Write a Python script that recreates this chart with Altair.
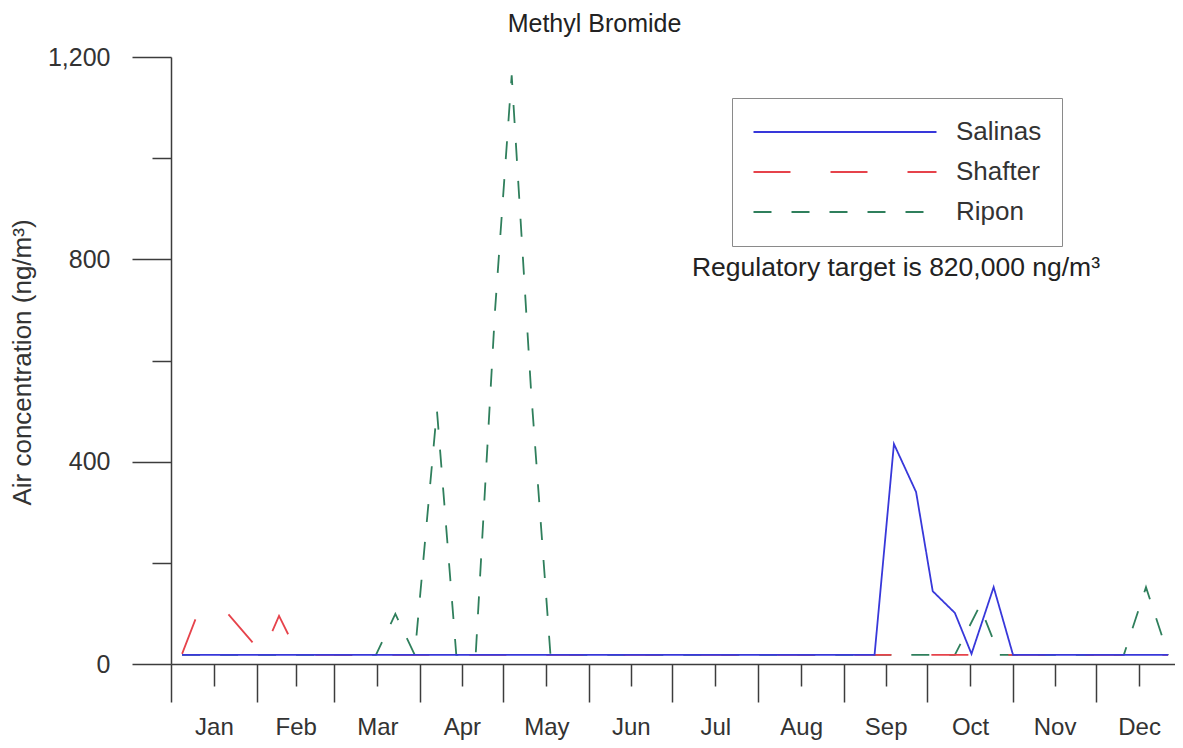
import datetime as dt
import altair as alt
import pandas as pd

# ---------------- data ----------------
sites = ["Salinas", "Shafter", "Ripon"]
site_colors = ["#3838da", "#e6434b", "#2f7f5c"]
site_dashes = [[1, 0], [37, 40], [18, 20]]

salinas_dates = ["2021-01-05", "2021-09-12", "2021-09-19", "2021-09-27", "2021-10-03",
                 "2021-10-11", "2021-10-17", "2021-10-25", "2021-11-01", "2021-12-27"]
salinas_values = [18, 18, 435, 340, 144, 101, 20, 152, 18, 18]

shafter_dates = ["2021-01-05", "2021-01-11", "2021-01-21", "2021-02-03", "2021-02-09",
                 "2021-02-16", "2021-12-27"]
shafter_values = [20, 105, 103, 20, 95, 18, 18]

ripon_dates = ["2021-01-05", "2021-03-16", "2021-03-23", "2021-03-30", "2021-04-07",
               "2021-04-14", "2021-04-21", "2021-04-28", "2021-05-04", "2021-05-11",
               "2021-05-18", "2021-10-11", "2021-10-20", "2021-10-27", "2021-12-11",
               "2021-12-19", "2021-12-27"]
ripon_values = [18, 18, 99, 18, 502, 18, 18, 700, 1164, 540, 18, 18, 115, 18, 18, 152, 18]

y_ticks = [0, 200, 400, 600, 800, 1000, 1200]
title_text = "Methyl Bromide"
y_title = "Air concentration (ng/m³)"
note_text = "Regulatory target is 820,000 ng/m³"

# ---------------- table ----------------
rows = []
for name, ds, vs in [("Salinas", salinas_dates, salinas_values),
                     ("Shafter", shafter_dates, shafter_values),
                     ("Ripon", ripon_dates, ripon_values)]:
    for d, v in zip(ds, vs):
        rows.append({"site": name, "date": d, "value": v})
df = pd.DataFrame(rows)


def ms(d):
    return int(d.replace(tzinfo=dt.timezone.utc).timestamp() * 1000)


month_starts = [dt.datetime(2021, m, 1) for m in range(1, 13)] + [dt.datetime(2022, 1, 1)]
month_mids = [month_starts[i] + (month_starts[i + 1] - month_starts[i]) / 2 for i in range(12)]
x_tick_values = [ms(d) for d in month_starts + month_mids]

FONT = "Liberation Sans"
AX = "#3c3c3c"

x_enc = alt.X(
    "date:T",
    title=None,
    scale=alt.Scale(type="utc", domain=[ms(month_starts[0]), ms(month_starts[-1])]),
    axis=alt.Axis(
        values=x_tick_values,
        grid=False,
        domainColor=AX, domainWidth=1.5,
        tickColor=AX, tickWidth=1.5,
        tickSize={"condition": {"test": "utcdate(datum.value) === 1", "value": 38}, "value": 22},
        labelExpr="utcdate(datum.value) === 1 ? '' : utcFormat(datum.value, '%b')",
        labelOverlap=False, labelFlush=False, labelBound=False,
        labelFont=FONT, labelFontSize=24, labelColor="#333",
        labelPadding=29, labelBaseline="top",
    ),
)

y_enc = alt.Y(
    "value:Q",
    title=y_title,
    scale=alt.Scale(domain=[0, 1200], nice=False),
    axis=alt.Axis(
        values=y_ticks,
        grid=False,
        domainColor=AX, domainWidth=1.5,
        tickColor=AX, tickWidth=1.5,
        tickSize={"condition": {"test": "datum.value % 400 === 0", "value": 39}, "value": 19},
        labelExpr="datum.value % 400 === 0 ? format(datum.value, ',') : ''",
        labelOverlap=False,
        labelFont=FONT, labelFontSize=25, labelColor="#333", labelPadding=22,
        titleFont=FONT, titleFontSize=26, titleFontWeight="normal", titleColor="#333",
        titleX=-149, titleY=305, titleAngle=270, titleAlign="center", titleBaseline="middle",
    ),
)

leg = alt.Legend(
    title=None, orient="none", legendX=561, legendY=41, direction="vertical",
    symbolType="stroke", symbolSize=183 * 183, symbolStrokeWidth=2.2, clipHeight=28,
    rowPadding=12, labelOffset=18, labelFont=FONT, labelFontSize=26, labelColor="#333",
    labelLimit=0, padding=20, strokeColor="#8a8a8a", fillColor="white", cornerRadius=0,
)

color_enc = alt.Color("site:N", scale=alt.Scale(domain=sites, range=site_colors), legend=leg)
dash_enc = alt.StrokeDash("site:N", scale=alt.Scale(domain=sites, range=site_dashes), legend=leg)

base = alt.Chart(df)
layers = []
for name in ["Ripon", "Shafter", "Salinas"]:
    layers.append(
        base.transform_filter(alt.datum.site == name)
        .mark_line(strokeWidth=1.8)
        .encode(x=x_enc, y=y_enc, color=color_enc, strokeDash=dash_enc)
    )

note = alt.Chart(pd.DataFrame({"t": [note_text]})).mark_text(
    font=FONT, fontSize=26.5, color="#222", align="center", baseline="middle"
).encode(text="t:N", x=alt.value(725), y=alt.value(211))

chart = alt.layer(*layers, note).properties(
    width=1011, height=607,
    autosize=alt.AutoSizeParams(type="none"),
    padding={"left": 163, "top": 49, "right": -7, "bottom": 76},
    title=alt.TitleParams(title_text, font=FONT, fontSize=25, fontWeight="normal",
                          color="#222", anchor="middle", dx=-82, offset=8),
).configure_view(stroke=None)

chart.save("out.html", embed_options={"renderer": "svg", "actions": False})
